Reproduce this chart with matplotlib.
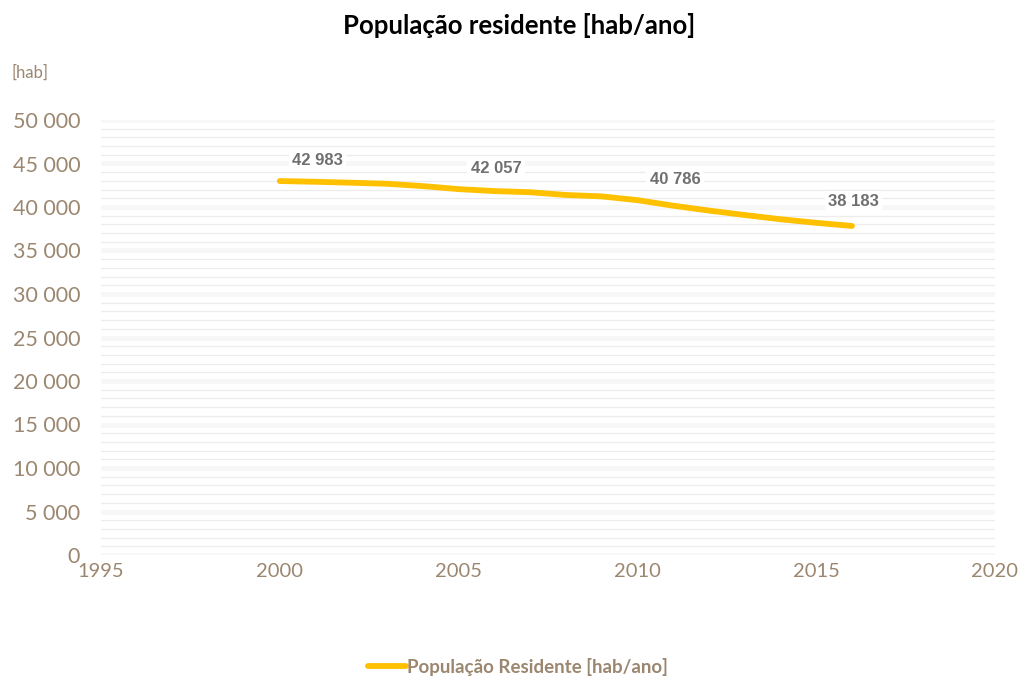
import numpy as np
import matplotlib
matplotlib.use("Agg")
from matplotlib import pyplot as plt

# data
years = [2000, 2001, 2002, 2003, 2004, 2005, 2006, 2007, 2008,
         2009, 2010, 2011, 2012, 2013, 2014, 2015, 2016]
population = [42983, 42900, 42790, 42670, 42400, 42057, 41830, 41700, 41380,
              41220, 40786, 40150, 39590, 39080, 38590, 38183, 37820]
labelled_years = [2000, 2005, 2010, 2015]
y_ticks = [0, 5000, 10000, 15000, 20000, 25000, 30000, 35000, 40000, 45000, 50000]
x_ticks = [1995, 2000, 2005, 2010, 2015, 2020]

brown = "#9b8770"
gold = "#ffc000"

plt.rcParams['font.family'] = ['Lato', 'DejaVu Sans']

fig = plt.figure(figsize=(10.22, 6.77), dpi=100)
ax = fig.add_axes([101 / 1022, 122 / 677, 894 / 1022, 435 / 677])

# grid: thin minor lines every 1000, light bands every 5000
for v in range(0, 50001, 1000):
    if v % 5000 == 0:
        ax.axhline(v, color="#f7f7f7", lw=3.5, zorder=0)
    else:
        ax.axhline(v, color="#ececec", lw=0.9, zorder=0)

ax.plot(years, population, color=gold, lw=4.2, solid_capstyle='round',
        solid_joinstyle='round', label="População Residente [hab/ano]", zorder=3)

for yr in labelled_years:
    val = population[years.index(yr)]
    txt = f"{val:,}".replace(",", " ")
    ax.annotate(txt, (yr, val), xytext=(27, 15), textcoords='offset points',
                ha='center', va='center', fontsize=12, fontweight='bold',
                color="#707070", family=['Liberation Sans'],
                bbox=dict(boxstyle='square,pad=0.2', fc='white', ec='none'),
                zorder=4)

ax.set_xlim(1995, 2020)
ax.set_ylim(0, 50000)
ax.set_xticks(x_ticks)
ax.set_yticks(y_ticks)
ax.set_yticklabels([f"{t:,}".replace(",", " ") for t in y_ticks])
ax.tick_params(axis='both', length=0, labelsize=14.5, labelcolor=brown)
ax.tick_params(axis='y', pad=15, labelsize=15.5)
ax.tick_params(axis='x', pad=6)
for s in ax.spines.values():
    s.set_visible(False)

fig.text(0.508, 0.962, "População residente [hab/ano]", ha='center', va='center',
         fontsize=18.5, fontweight='bold', color='black')
fig.text(0.011, 0.893, "[hab]", ha='left', va='center', fontsize=12, color=brown)

leg = fig.legend(loc='center', bbox_to_anchor=(0.507, 0.015), frameon=False,
                 handlelength=2.0, handletextpad=0.1,
                 prop=dict(size=13.5, weight='bold'))
for t in leg.get_texts():
    t.set_color(brown)

fig.savefig("out.png", dpi=100, facecolor='white')
